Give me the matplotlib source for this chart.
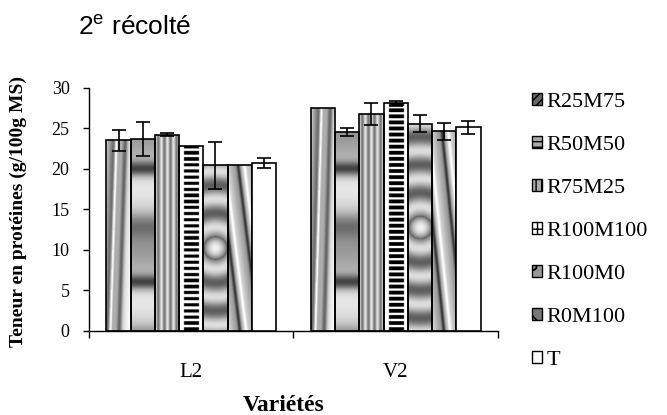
import numpy as np
import matplotlib
matplotlib.use('Agg')
import matplotlib.pyplot as plt
from matplotlib.patches import Patch

plt.rcParams['font.family'] = ['Liberation Serif', 'DejaVu Serif']
plt.rcParams['mathtext.fontset'] = 'custom'
plt.rcParams['mathtext.rm'] = 'Liberation Sans'

varietes = ['L2', 'V2']
traitements = ['R25M75', 'R50M50', 'R75M25', 'R100M100', 'R100M0', 'R0M100', 'T']

# teneur en proteines (g/100g MS) : [L2, V2]
r25m75 = [23.5, 27.5]
r50m50 = [23.65, 24.5]
r75m25 = [24.2, 26.75]
r100m100 = [22.75, 28.05]
r100m0 = [20.45, 25.55]
r0m100 = [20.5, 24.6]
temoin = [20.7, 25.1]

# barres d'erreur
err_r25m75 = [1.3, 0.0]
err_r50m50 = [2.1, 0.5]
err_r75m25 = [0.2, 1.35]
err_r100m100 = [0.0, 0.3]
err_r100m0 = [2.9, 1.05]
err_r0m100 = [0.0, 1.0]
err_temoin = [0.6, 0.8]

valeurs = [r25m75, r50m50, r75m25, r100m100, r100m0, r0m100, temoin]
erreurs = [err_r25m75, err_r50m50, err_r75m25, err_r100m100, err_r100m0, err_r0m100, err_temoin]
motifs = ['diag1', 'bands', 'vstripes', 'ladder', 'rings', 'diag2', None]


def wrap(x, p):
    return (x + p / 2) % p - p / 2


def texture(kind, h):
    # petite texture en niveaux de gris, facon remplissage Excel
    ny, nx = 300, 40
    v = np.linspace(h, 0, ny)[:, None]
    u = np.linspace(0, 1, nx)[None, :]
    t = v / h
    if kind == 'diag1':
        s = u - (0.15 + 0.25 * t)
        g = np.where(s < 0, 0.25 + 0.5 * (-s / 0.35), 0.6 + 0.5 * s)
        g = g + 0.6 * np.exp(-(s / 0.06) ** 2)
        g = g - 0.4 * np.exp(-((s - 0.38) / 0.1) ** 2)
    elif kind == 'bands':
        g = 0.75 + 0.15 * np.cos(2 * np.pi * (v - 3.5) / 14)
        g = g - 0.55 * np.exp(-(wrap(v - 6, 14) / 0.9) ** 2)
        g = g - 0.25 * np.exp(-(wrap(v - 13, 14) / 1.5) ** 2)
        g = g + 0 * u
    elif kind == 'vstripes':
        g = 0.68 + 0.22 * np.cos(2 * np.pi * u * 4) + 0 * v
    elif kind == 'ladder':
        g = np.ones((ny, nx))
        mask = (u > 0.2) & (u < 0.8) & ((v % 0.75) < 0.4)
        g[mask] = 0.0
    elif kind == 'rings':
        r = np.sqrt(((u - 0.5) * 24) ** 2 + ((v - h / 2) * 8.1) ** 2)
        g = 0.62 + 0.25 * np.cos(2 * np.pi * (r - 21) / 28)
        g = np.where(r < 12, 0.95 - 0.6 * (r / 12) ** 2, g)
    else:
        s = u + 0.85 * t
        g = 0.72 + 0.1 * np.cos(2 * np.pi * s / 0.77)
        g = g - 0.45 * np.exp(-(wrap(s - 1.25, 0.77) / 0.07) ** 2)
        g = g + 0.2 * np.exp(-(wrap(s - 1.5, 0.77) / 0.06) ** 2)
    return np.clip(g, 0, 1)


fig = plt.figure(figsize=(6.67, 4.15), dpi=100)
ax = fig.add_axes([0.1334, 0.2031, 0.6132, 0.5856])

x = np.arange(len(varietes))
largeur = 0.1185
for i, (nom, vals, errs, motif) in enumerate(zip(traitements, valeurs, erreurs, motifs)):
    pos = x + (i - 3) * largeur
    bars = ax.bar(pos, vals, largeur, color='white', edgecolor='black',
                  linewidth=1.2, zorder=3, label=nom)
    for b in bars:
        if motif is not None:
            b.set_facecolor('none')
            im = ax.imshow(texture(motif, b.get_height()), cmap='gray', vmin=0, vmax=1,
                           extent=(b.get_x(), b.get_x() + b.get_width(), 0, b.get_height()),
                           aspect='auto', interpolation='bilinear', zorder=2)
            im.set_clip_path(b)
    for p, val, e in zip(pos, vals, errs):
        if e > 0:
            ax.errorbar(p, val, yerr=e, fmt='none', ecolor='black', elinewidth=1.2,
                        capsize=5, capthick=1.2, zorder=4)

ax.set_xlim(-0.5, 1.5)
ax.set_ylim(0, 30)
ax.set_yticks(range(0, 31, 5))
ax.set_xticks(x)
ax.set_xticklabels(varietes, fontsize=15)
ax.set_xticks([-0.5, 0.5, 1.5], minor=True)
ax.tick_params(axis='x', which='major', length=0, pad=23)
ax.tick_params(axis='x', which='minor', length=5, width=1, direction='out')
ax.tick_params(axis='y', labelsize=13, length=4, width=1, pad=10)
for s in ['top', 'right']:
    ax.spines[s].set_visible(False)
for s in ['left', 'bottom']:
    ax.spines[s].set_linewidth(1)

ax.set_ylabel('Teneur en protéines (g/100g MS)', fontsize=14, fontweight='bold')
ax.yaxis.set_label_coords(-0.152, 0.49)
ax.set_xlabel('Variétés', fontsize=17, fontweight='bold')
ax.xaxis.set_label_coords(0.476, -0.265)

poignees = [Patch(facecolor='#666666', edgecolor='black', hatch='////'),
            Patch(facecolor='#aaaaaa', edgecolor='black', hatch='---'),
            Patch(facecolor='#aaaaaa', edgecolor='black', hatch='|||'),
            Patch(facecolor='white', edgecolor='black', hatch='++'),
            Patch(facecolor='#999999', edgecolor='black', hatch='o'),
            Patch(facecolor='#777777', edgecolor='black', hatch='\\\\'),
            Patch(facecolor='white', edgecolor='black')]
fig.legend(poignees, traitements, loc='upper left', bbox_to_anchor=(0.7976, 0.776),
           frameon=False, fontsize=16, handlelength=0.45, handleheight=0.45,
           handletextpad=0.2, labelspacing=1.08, borderpad=0, borderaxespad=0)

fig.text(78 / 667, 0.9157, '2$^{\\mathrm{e}}$ récolté', fontsize=19,
         family='Liberation Sans', va='baseline', ha='left')

fig.savefig('out.png', dpi=100)
